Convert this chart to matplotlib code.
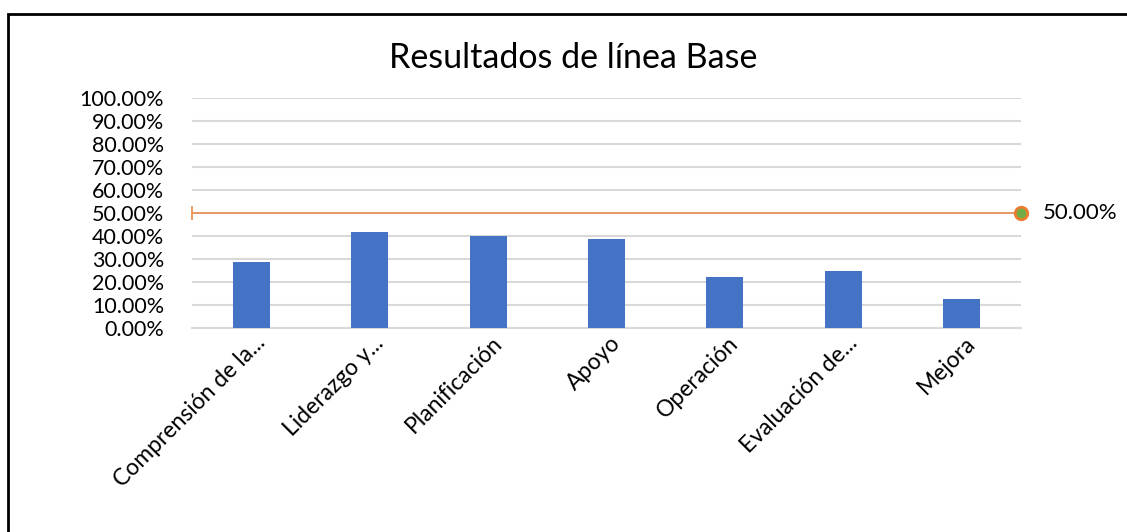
import numpy as np
import matplotlib.pyplot as plt
from matplotlib.patches import Rectangle
from matplotlib.ticker import PercentFormatter
from matplotlib.transforms import ScaledTranslation

plt.rcParams['font.family'] = ['Lato', 'DejaVu Sans']

# Data
categorias = ['Comprensión de la...', 'Liderazgo y...', 'Planificación', 'Apoyo',
              'Operación', 'Evaluación de...', 'Mejora']
resultados = [0.2857, 0.4167, 0.4000, 0.3889, 0.2222, 0.2500, 0.1250]
meta = 0.50
yticks = np.arange(0, 1.01, 0.1)

fig = plt.figure(figsize=(11.27, 5.32), dpi=100)
ax = fig.add_axes([192/1127, 1 - 328/532, (1021 - 192)/1127, 230/532])

x = np.arange(len(categorias))
ax.bar(x, resultados, width=0.313, color='#4472C4', zorder=3)

# target line with end markers
ax.set_xlim(-0.5, len(categorias) - 0.5)
ax.set_ylim(0, 1)
x0, x1 = ax.get_xlim()
ax.plot([x0, x1], [meta, meta], color='#E8955A', lw=1.3, zorder=4, clip_on=False)
ax.plot([x0], [meta], marker='|', color='#E8955A', ms=10, mew=1.3, zorder=5, clip_on=False)
ax.plot([x1], [meta], marker='o', ms=9, mfc='#70AD47', mec='#ED7D31', mew=2,
        zorder=6, clip_on=False)
ax.annotate(f'{meta:.2%}', (x1, meta), xytext=(16, 0), textcoords='offset points',
            va='center', ha='left', fontsize=16, annotation_clip=False)

ax.set_yticks(yticks)
ax.yaxis.set_major_formatter(PercentFormatter(1.0, decimals=2))
ax.grid(axis='y', color='#D9D9D9', lw=1.5, zorder=0)
ax.set_axisbelow(True)
ax.tick_params(axis='y', length=0, labelsize=15.5, pad=20)
ax.tick_params(axis='x', length=0, labelsize=16.5, pad=3)
ax.set_xticks(x)
ax.set_xticklabels(categorias, rotation=45, ha='right', rotation_mode='anchor')
shift = ScaledTranslation(0.03, 0, fig.dpi_scale_trans)
for lbl in ax.get_xticklabels():
    lbl.set_transform(lbl.get_transform() + shift)
for s in ['top', 'right', 'left']:
    ax.spines[s].set_visible(False)
ax.spines['bottom'].set_color('#D9D9D9')
ax.spines['bottom'].set_linewidth(1.5)

fig.text(573/1127, 1 - 58/532, 'Resultados de línea Base', ha='center', va='center',
         fontsize=24.5)

fig.patches.append(Rectangle((8/1127, -0.05), 1.1, 1 - 14/532 + 0.05,
                             transform=fig.transFigure, fill=False, ec='black', lw=2))

fig.savefig('out.png', dpi=100)
